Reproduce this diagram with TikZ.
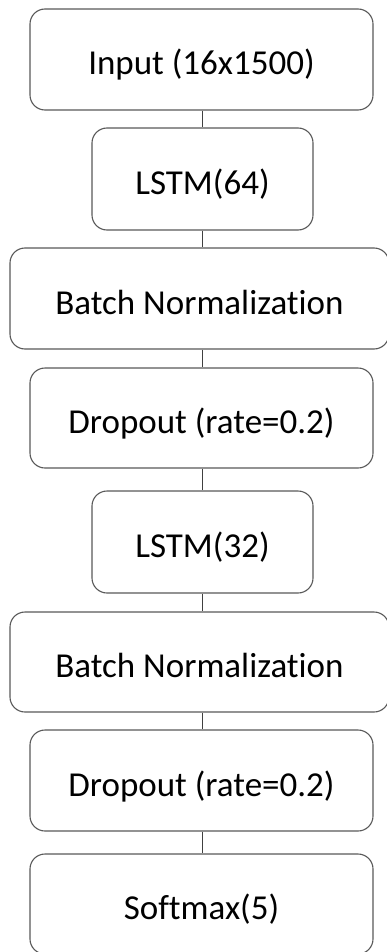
\documentclass[tikz,border=0pt]{standalone}
\usepackage{fontspec}
\setmainfont{Carlito}[Ligatures={NoCommon}]
\begin{document}
\begin{tikzpicture}[x=1pt,y=-1pt,
  layer/.style={draw=black!65, line width=1.1pt, rounded corners=15pt, fill=white,
    font=\fontsize{35}{40}\selectfont, inner sep=0pt, anchor=center,
    text height=36pt, text depth=5pt},
  link/.style={draw=black!75, line width=1pt}]
\useasboundingbox (0,0) rectangle (387,952);
\begin{scope}
\clip (0,0) rectangle (387,952);
\node[layer, minimum width=343pt, minimum height=101pt] (n1) at (201.5,59.5) {Input (16x1500)};
\node[layer, minimum width=221pt, minimum height=102pt] (n2) at (202.5,179) {LSTM(64)};
\node[layer, minimum width=379pt, minimum height=101pt] (n3) at (199.5,298.5) {Batch Normalization};
\node[layer, minimum width=343pt, minimum height=100pt] (n4) at (201.5,418) {Dropout (rate=0.2)};
\node[layer, minimum width=221pt, minimum height=102pt] (n5) at (202.5,542) {LSTM(32)};
\node[layer, minimum width=379pt, minimum height=100pt] (n6) at (199.5,662) {Batch Normalization};
\node[layer, minimum width=343pt, minimum height=101pt] (n7) at (201.5,780.5) {Dropout (rate=0.2)};
\node[layer, minimum width=343pt, minimum height=100pt] (n8) at (201.5,904) {Softmax(5)};
\end{scope}
\foreach \a/\b in {n1/n2,n2/n3,n3/n4,n4/n5,n5/n6,n6/n7,n7/n8}
  \draw[link] (\a.south -| 202,0) -- (\b.north -| 202,0);
\end{tikzpicture}
\end{document}
